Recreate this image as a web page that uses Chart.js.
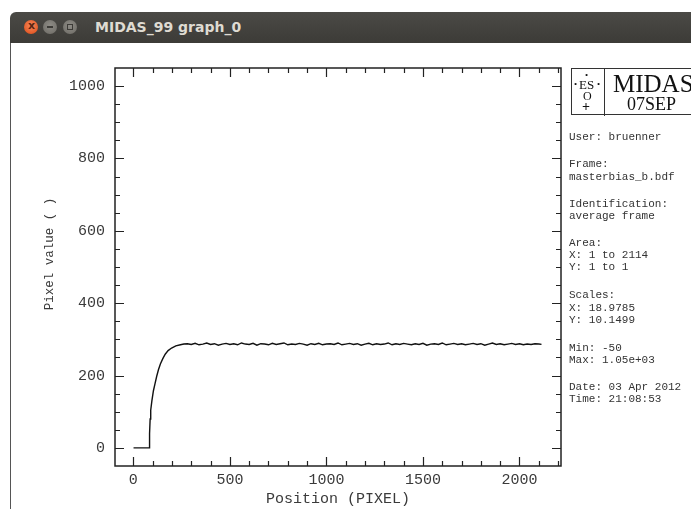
<!DOCTYPE html>
<html>
<head>
<meta charset="utf-8">
<script src="https://cdn.jsdelivr.net/npm/chart.js@4/dist/chart.umd.min.js"></script>
<style>
  body { margin: 0; width: 691px; height: 509px; background: #fff; overflow: hidden; position: relative; }
  #bar { position: absolute; left: 10px; top: 12px; width: 681px; height: 31px; background: linear-gradient(#4b4a46, #3c3b37); border-radius: 6px 0 0 0; }
  #bar .btn { position: absolute; top: 8px; width: 14px; height: 14px; border-radius: 50%; }
  #close { left: 14px; background: radial-gradient(circle at 50% 40%, #f58a5c, #dd4814); }
  #close:after { content: "x"; position: absolute; left: 4px; top: -1px; font: bold 11px "DejaVu Sans", sans-serif; color: #5a2410; }
  #mini { left: 33px; background: radial-gradient(circle at 50% 40%, #8e8c86, #6c6a64); }
  #mini:after { content: ""; position: absolute; left: 4px; top: 6px; width: 6px; height: 2px; background: #3c3b37; }
  #maxi { left: 53px; background: radial-gradient(circle at 50% 40%, #8e8c86, #6c6a64); }
  #maxi:after { content: ""; position: absolute; left: 4px; top: 4px; width: 4px; height: 4px; border: 1px solid #3c3b37; }
  #title { position: absolute; left: 85px; top: 7px; font: bold 14px "DejaVu Sans", sans-serif; color: #dfdbd2; }
  #edge { position: absolute; left: 10px; top: 43px; width: 1px; height: 466px; background: #555; }
  #graph { position: absolute; left: 0; top: 0; }
  #logo { position: absolute; left: 571px; top: 68px; width: 140px; height: 47px; border: 1px solid #333; box-sizing: border-box; }
  #logo .cell { position: absolute; left: 32px; top: 0; width: 1px; height: 47px; background: #333; }
  #logo .t { position: absolute; font-family: "Liberation Serif", serif; color: #111; white-space: nowrap; }
  #info { position: absolute; left: 569px; top: 0; font: 11px "Liberation Mono", monospace; color: #333; }
  #info div { position: absolute; left: 0; white-space: pre; }
</style>
</head>
<body>
<div id="bar">
  <div class="btn" id="close"></div>
  <div class="btn" id="mini"></div>
  <div class="btn" id="maxi"></div>
  <div id="title">MIDAS_99 graph_0</div>
</div>
<div id="edge"></div>
<canvas id="graph" width="691" height="509"></canvas>
<div id="logo">
  <div class="cell"></div>
  <div class="t" style="left:2px;top:10px;font-size:9px">&#8226;</div>
  <div class="t" style="left:13px;top:1px;font-size:9px">&#8226;</div>
  <div class="t" style="left:7px;top:8px;font-size:13px">ES</div>
  <div class="t" style="left:25px;top:10px;font-size:9px">&#8226;</div>
  <div class="t" style="left:11px;top:20px;font-size:12px">O</div>
  <div class="t" style="left:10px;top:30px;font-size:14px;font-weight:bold">+</div>
  <div class="t" style="left:41px;top:1px;font-size:25px">MIDAS</div>
  <div class="t" style="left:55px;top:25px;font-size:18px">07SEP</div>
</div>
<div id="info">
  <div style="top:131px">User: bruenner</div>
  <div style="top:158px">Frame:</div>
  <div style="top:171px">masterbias_b.bdf</div>
  <div style="top:198px">Identification:</div>
  <div style="top:210px">average frame</div>
  <div style="top:237px">Area:</div>
  <div style="top:249px">X: 1 to 2114</div>
  <div style="top:261px">Y: 1 to 1</div>
  <div style="top:289px">Scales:</div>
  <div style="top:302px">X: 18.9785</div>
  <div style="top:314px">Y: 10.1499</div>
  <div style="top:342px">Min: -50</div>
  <div style="top:354px">Max: 1.05e+03</div>
  <div style="top:381px">Date: 03 Apr 2012</div>
  <div style="top:393px">Time: 21:08:53</div>
</div>
<script>
// pixel position along the row
const positions = [
  1, 82, 84, 87, 90, 96, 104, 112, 121, 130, 140, 152, 165, 180, 198, 220, 244, 262,
  280, 300, 320, 340, 360, 380, 400, 420, 440, 460,
  480, 500, 520, 540, 560, 580, 600, 620, 640, 660,
  680, 700, 720, 740, 760, 780, 800, 820, 840, 860,
  880, 900, 920, 940, 960, 980, 1000, 1020, 1040, 1060,
  1080, 1100, 1120, 1140, 1160, 1180, 1200, 1220, 1240, 1260,
  1280, 1300, 1320, 1340, 1360, 1380, 1400, 1420, 1440, 1460,
  1480, 1500, 1520, 1540, 1560, 1580, 1600, 1620, 1640, 1660,
  1680, 1700, 1720, 1740, 1760, 1780, 1800, 1820, 1840, 1860,
  1880, 1900, 1920, 1940, 1960, 1980, 2000, 2020, 2040, 2060,
  2080, 2100, 2114
];
// average pixel value
const values = [
  0, 0, 40, 80, 104, 130, 158, 177, 198, 216, 232, 246, 259, 269, 276, 282, 285, 287,
  288, 286, 289, 285, 287, 290, 286, 288, 284, 287,
  289, 286, 288, 285, 290, 287, 286, 289, 284, 288,
  287, 285, 289, 286, 288, 290, 285, 287, 286, 289,
  287, 284, 288, 286, 289, 285, 287, 288, 286, 290,
  285, 287, 289, 286, 288, 284, 287, 289, 285, 288,
  286, 287, 290, 285, 288, 286, 289, 287, 285, 288,
  286, 289, 284, 287, 288, 286, 290, 285, 287, 289,
  286, 288, 285, 287, 289, 286, 288, 284, 287, 290,
  286, 288, 285, 287, 289, 286, 288, 285, 287, 286,
  288, 287, 286
];
const xTickLabels = [0, 500, 1000, 1500, 2000];
const yTickLabels = [0, 200, 400, 600, 800, 1000];

const monoFont = 'Liberation Mono';
const inkColor = '#3a3a3a';

// midas style box with inward ticks on all four sides
const frameTicks = {
  id: 'frameTicks',
  afterDraw(chart) {
    const ctx = chart.ctx;
    const {left, right, top, bottom} = chart.chartArea;
    const x = chart.scales.x, y = chart.scales.y;
    ctx.save();
    ctx.strokeStyle = '#222';
    ctx.lineWidth = 1.5;
    ctx.strokeRect(left, top, right - left, bottom - top);
    ctx.lineWidth = 1.2;
    ctx.beginPath();
    for (let v = 0; v <= 2200; v += 100) {
      const len = v % 500 === 0 ? 9 : 5;
      const px = Math.round(x.getPixelForValue(v)) + 0.5;
      ctx.moveTo(px, bottom); ctx.lineTo(px, bottom - len);
      ctx.moveTo(px, top); ctx.lineTo(px, top + len);
    }
    for (let v = 0; v <= 1000; v += 50) {
      const len = v % 200 === 0 ? 9 : 5;
      const py = Math.round(y.getPixelForValue(v)) + 0.5;
      ctx.moveTo(left, py); ctx.lineTo(left + len, py);
      ctx.moveTo(right, py); ctx.lineTo(right - len, py);
    }
    ctx.stroke();

    ctx.translate(50, 254);
    ctx.rotate(-Math.PI / 2);
    ctx.fillStyle = inkColor;
    ctx.font = '12.5px "' + monoFont + '"';
    ctx.textAlign = 'center';
    ctx.textBaseline = 'middle';
    ctx.fillText('Pixel value ( )', 0, 0);
    ctx.restore();
  }
};

new Chart('graph', {
  type: 'scatter',
  data: {
    datasets: [{
      data: positions.map((p, i) => ({x: p, y: values[i]})),
      showLine: true,
      borderColor: '#111',
      borderWidth: 1.4,
      pointRadius: 0,
      tension: 0
    }]
  },
  options: {
    responsive: false,
    animation: false,
    layout: {padding: {left: 0, top: 68, right: 130, bottom: 0}},
    plugins: {legend: {display: false}, tooltip: {enabled: false}},
    scales: {
      x: {
        type: 'linear', min: -95, max: 2215,
        afterBuildTicks: s => { s.ticks = xTickLabels.map(v => ({value: v})); },
        afterFit: s => { s.height = 43; },
        grid: {display: false, drawTicks: false},
        border: {display: false},
        ticks: {padding: 5, color: inkColor, font: {family: monoFont, size: 15}, maxRotation: 0, autoSkip: false, callback: v => String(v)},
        title: {display: true, text: 'Position (PIXEL)', color: inkColor, font: {family: monoFont, size: 15}, padding: {top: 0, bottom: 1}}
      },
      y: {
        type: 'linear', min: -50, max: 1050,
        afterBuildTicks: s => { s.ticks = yTickLabels.map(v => ({value: v})); },
        afterFit: s => { s.width = 115; },
        grid: {display: false, drawTicks: false},
        border: {display: false},
        ticks: {padding: 10, color: inkColor, font: {family: monoFont, size: 15}, autoSkip: false, callback: v => String(v)}
      }
    }
  },
  plugins: [frameTicks]
});
</script>
</body>
</html>
